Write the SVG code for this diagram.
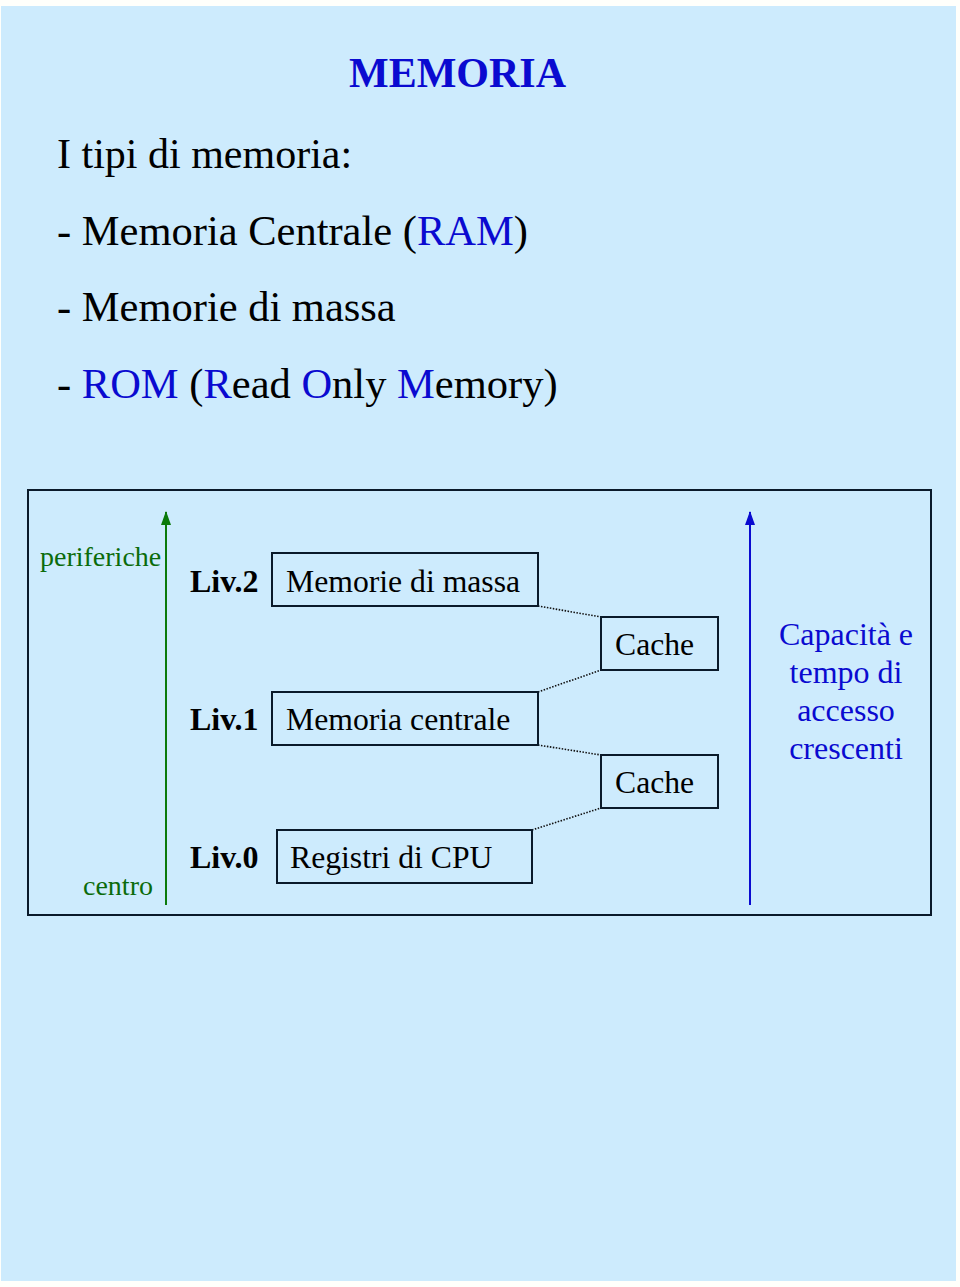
<svg xmlns="http://www.w3.org/2000/svg" width="960" height="1287" viewBox="0 0 960 1287">
<defs>
<style>
text{font-family:"Liberation Serif","Times New Roman",serif;fill:#000}
.b{fill:#0a0ad0}
.g{fill:#0b6b0b}
.box{fill:none;stroke:#0a1a2a;stroke-width:2}
.dot{stroke:#111;stroke-width:1.6;stroke-dasharray:1.5 1.5;fill:none}
.lv{font-weight:bold;font-size:32px}
.bt{font-size:31.7px}
</style>
<marker id="ag" markerWidth="14" markerHeight="12" refX="13" refY="6" orient="auto" markerUnits="userSpaceOnUse" viewBox="0 0 14 12"><path d="M0,1 L14,6 L0,11 Z" fill="#0b7a0b"/></marker>
<marker id="ab" markerWidth="14" markerHeight="12" refX="13" refY="6" orient="auto" markerUnits="userSpaceOnUse" viewBox="0 0 14 12"><path d="M0,1 L14,6 L0,11 Z" fill="#0a0ad0"/></marker>
</defs>
<rect x="0" y="0" width="960" height="1287" fill="#fffffb"/>
<rect x="1" y="6" width="955" height="1275" fill="#cdebfd"/>
<g id="title"><text x="349" y="87" class="b" font-size="42" font-weight="bold">MEMORIA</text></g>
<g id="list">
<text x="57" y="168" font-size="42">I tipi di memoria:</text>
<text x="57" y="245" font-size="42.5">- Memoria Centrale (<tspan class="b">RAM</tspan>)</text>
<text x="57" y="321" font-size="42.5">- Memorie di massa</text>
<text x="57" y="398" font-size="42.5">- <tspan class="b">ROM</tspan> (<tspan class="b">R</tspan>ead <tspan class="b">O</tspan>nly <tspan class="b">M</tspan>emory)</text>
</g>
<g id="frame"><rect x="28" y="490" width="903" height="425" fill="none" stroke="#0a1a2a" stroke-width="2"/></g>
<g id="connectors">
<line x1="166" y1="905" x2="166" y2="512" stroke="#0b7a0b" stroke-width="2" marker-end="url(#ag)"/>
<line x1="750" y1="905" x2="750" y2="512" stroke="#0a0ad0" stroke-width="2" marker-end="url(#ab)"/>
<line class="dot" x1="538" y1="606" x2="601" y2="617"/>
<line class="dot" x1="538" y1="692" x2="601" y2="670"/>
<line class="dot" x1="538" y1="745" x2="601" y2="755"/>
<line class="dot" x1="532" y1="830" x2="601" y2="808"/>
</g>
<g id="axis-labels">
<text x="40" y="566" class="g" font-size="28">periferiche</text>
<text x="83" y="895" class="g" font-size="28">centro</text>
</g>
<g id="liv2"><text x="190" y="592" class="lv">Liv.2</text><rect class="box" x="272" y="553" width="266" height="53"/><text x="286" y="592" class="bt">Memorie di massa</text></g>
<g id="liv1"><text x="190" y="730" class="lv">Liv.1</text><rect class="box" x="272" y="692" width="266" height="53"/><text x="286" y="730" class="bt">Memoria centrale</text></g>
<g id="liv0"><text x="190" y="868" class="lv">Liv.0</text><rect class="box" x="277" y="830" width="255" height="53"/><text x="290" y="868" class="bt">Registri di CPU</text></g>
<g id="cache1"><rect class="box" x="601" y="617" width="117" height="53"/><text x="615" y="655" class="bt">Cache</text></g>
<g id="cache2"><rect class="box" x="601" y="755" width="117" height="53"/><text x="615" y="793" class="bt">Cache</text></g>
<g id="capacity" text-anchor="middle">
<text x="846" y="645" class="b" font-size="32">Capacità e</text>
<text x="846" y="683" class="b" font-size="32">tempo di</text>
<text x="846" y="721" class="b" font-size="32">accesso</text>
<text x="846" y="759" class="b" font-size="32">crescenti</text>
</g>
</svg>
